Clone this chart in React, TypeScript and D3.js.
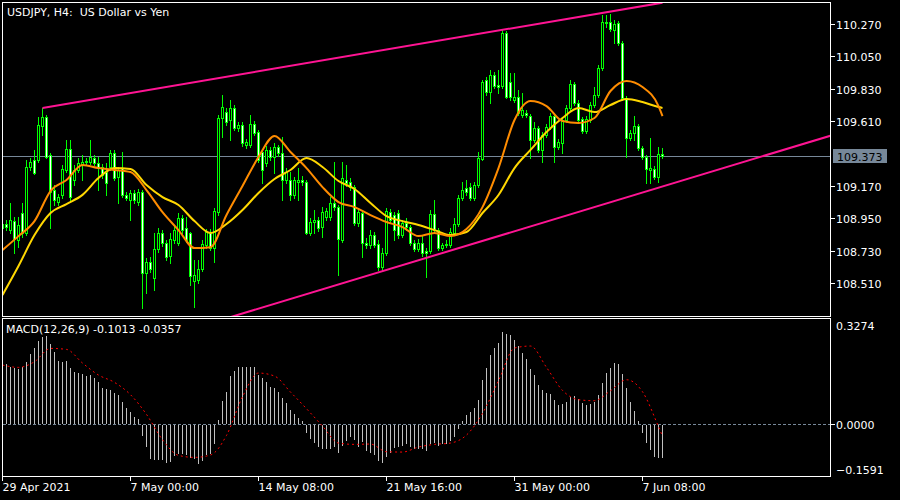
import React from 'react';
import * as d3 from 'd3';

const symbolTitle = 'USDJPY, H4:  US Dollar vs Yen';
const macdTitle = 'MACD(12,26,9) -0.1013 -0.0357';

const opens = [
  108.885, 108.912, 108.871, 108.932, 108.803, 108.987, 108.851, 109.299, 109.347, 109.347,
  109.577, 109.638, 109.381, 109.143, 109.061, 109.109, 109.279, 109.421, 109.211, 109.279,
  109.313, 109.333, 109.333, 109.361, 109.326, 109.299, 109.265, 109.299, 109.394, 109.231,
  109.292, 109.109, 109.075, 109.123, 109.061, 109.129, 108.580, 108.654, 108.546, 108.742,
  108.851, 108.783, 108.695, 108.803, 108.783, 108.953, 108.885, 108.851, 108.525, 108.532,
  108.607, 108.769, 108.858, 108.749, 108.993, 109.632, 109.672, 109.618, 109.700, 109.564,
  109.584, 109.448, 109.448, 109.591, 109.537, 109.401, 109.326, 109.415, 109.367, 109.435,
  109.394, 109.211, 109.211, 109.109, 109.197, 109.211, 109.197, 108.851, 108.926, 108.939,
  108.891, 108.959, 108.959, 109.055, 109.027, 108.803, 109.211, 109.197, 109.163, 108.919,
  108.987, 108.783, 108.769, 108.837, 108.776, 108.620, 108.716, 108.993, 108.973, 108.987,
  108.837, 108.919, 108.891, 108.783, 108.742, 108.783, 108.729, 108.729, 108.980, 108.871,
  108.749, 108.769, 108.769, 108.851, 108.912, 109.089, 109.156, 109.163, 109.089, 109.177,
  109.354, 109.890, 109.808, 109.924, 109.856, 109.849, 110.209, 109.876, 109.754, 109.774,
  109.652, 109.666, 109.645, 109.482, 109.564, 109.415, 109.516, 109.571, 109.645, 109.435,
  109.462, 109.618, 109.700, 109.863, 109.734, 109.625, 109.544, 109.618, 109.720, 109.788,
  109.971, 110.277, 110.284, 110.229, 110.277, 110.141, 109.768, 109.496, 109.530, 109.577,
  109.428, 109.367, 109.279, 109.286, 109.231, 109.387,
];
const highs = [
  108.932, 108.939, 109.055, 108.959, 108.959, 109.055, 109.347, 109.361, 109.415, 109.638,
  109.700, 109.652, 109.394, 109.177, 109.116, 109.313, 109.482, 109.482, 109.313, 109.361,
  109.381, 109.361, 109.482, 109.381, 109.367, 109.320, 109.326, 109.415, 109.415, 109.299,
  109.401, 109.129, 109.143, 109.143, 109.150, 109.143, 108.682, 108.688, 108.851, 108.885,
  108.871, 108.803, 108.851, 108.898, 108.987, 108.973, 108.959, 108.858, 108.668, 108.668,
  108.803, 108.878, 108.878, 109.021, 109.652, 109.788, 109.700, 109.754, 109.720, 109.605,
  109.605, 109.489, 109.652, 109.611, 109.550, 109.415, 109.441, 109.435, 109.462, 109.448,
  109.503, 109.292, 109.265, 109.231, 109.292, 109.238, 109.211, 108.953, 109.007, 108.959,
  109.027, 109.021, 109.095, 109.333, 109.041, 109.333, 109.313, 109.224, 109.177, 109.021,
  109.007, 108.817, 108.871, 108.858, 108.803, 108.749, 109.021, 109.014, 108.993, 109.007,
  108.939, 108.953, 108.905, 108.803, 108.810, 108.830, 108.749, 109.007, 109.075, 108.885,
  108.783, 108.803, 108.885, 108.953, 109.109, 109.197, 109.211, 109.190, 109.197, 109.401,
  109.890, 109.911, 109.958, 109.944, 109.958, 110.229, 110.222, 109.937, 109.937, 109.822,
  109.801, 109.686, 109.659, 109.605, 109.577, 109.537, 109.591, 109.666, 109.659, 109.489,
  109.638, 109.720, 109.890, 109.876, 109.754, 109.638, 109.645, 109.740, 109.842, 109.992,
  110.331, 110.331, 110.338, 110.297, 110.290, 110.154, 109.781, 109.550, 109.645, 109.591,
  109.441, 109.381, 109.496, 109.306, 109.435, 109.428,
];
const lows = [
  108.864, 108.871, 108.851, 108.716, 108.755, 108.823, 108.837, 109.279, 109.252, 109.333,
  109.516, 109.361, 108.885, 109.041, 109.041, 109.089, 109.265, 109.075, 109.177, 109.265,
  109.211, 109.320, 109.320, 109.313, 109.143, 109.224, 109.109, 109.279, 109.211, 109.055,
  109.095, 109.075, 108.939, 109.055, 109.041, 108.342, 108.444, 108.586, 108.464, 108.722,
  108.762, 108.668, 108.648, 108.783, 108.769, 108.851, 108.789, 108.498, 108.349, 108.512,
  108.593, 108.749, 108.736, 108.654, 108.973, 109.503, 109.584, 109.482, 109.550, 109.544,
  109.441, 109.428, 109.435, 109.516, 109.333, 109.190, 109.306, 109.347, 109.258, 109.374,
  109.075, 109.190, 109.075, 109.089, 109.075, 109.177, 108.844, 108.837, 108.851, 108.864,
  108.823, 108.939, 108.939, 109.007, 108.566, 108.789, 109.170, 109.143, 108.905, 108.898,
  108.688, 108.749, 108.749, 108.755, 108.600, 108.600, 108.702, 108.926, 108.803, 108.817,
  108.823, 108.871, 108.769, 108.729, 108.729, 108.695, 108.552, 108.716, 108.858, 108.736,
  108.736, 108.755, 108.755, 108.837, 108.898, 109.075, 109.109, 109.075, 109.075, 109.163,
  109.347, 109.788, 109.734, 109.836, 109.801, 109.836, 109.768, 109.754, 109.740, 109.652,
  109.638, 109.638, 109.361, 109.469, 109.401, 109.333, 109.503, 109.557, 109.333, 109.421,
  109.394, 109.605, 109.686, 109.720, 109.605, 109.530, 109.530, 109.605, 109.706, 109.774,
  109.958, 110.250, 110.222, 110.141, 110.127, 109.754, 109.367, 109.482, 109.482, 109.415,
  109.354, 109.190, 109.190, 109.218, 109.197, 109.360,
];
const closes = [
  108.912, 108.891, 108.939, 108.810, 108.905, 108.851, 109.299, 109.333, 109.259, 109.584,
  109.638, 109.367, 109.129, 109.075, 109.095, 109.286, 109.421, 109.095, 109.279, 109.326,
  109.333, 109.340, 109.367, 109.326, 109.292, 109.245, 109.190, 109.394, 109.224, 109.279,
  109.109, 109.089, 109.123, 109.075, 109.129, 108.580, 108.654, 108.607, 108.742, 108.851,
  108.783, 108.688, 108.810, 108.871, 108.953, 108.871, 108.803, 108.559, 108.566, 108.607,
  108.776, 108.858, 108.749, 109.000, 109.632, 109.706, 109.605, 109.700, 109.564, 109.584,
  109.462, 109.469, 109.591, 109.530, 109.347, 109.279, 109.415, 109.367, 109.435, 109.394,
  109.211, 109.265, 109.109, 109.211, 109.211, 109.197, 108.851, 108.926, 108.939, 108.885,
  108.993, 109.000, 109.055, 109.027, 108.810, 109.224, 109.190, 109.163, 108.919, 108.993,
  108.783, 108.769, 108.837, 108.769, 108.620, 108.716, 109.000, 108.939, 108.871, 108.837,
  108.919, 108.891, 108.783, 108.742, 108.783, 108.716, 108.716, 108.980, 108.871, 108.749,
  108.769, 108.776, 108.858, 108.912, 109.089, 109.143, 109.129, 109.089, 109.177, 109.361,
  109.876, 109.808, 109.924, 109.849, 109.842, 110.209, 109.774, 109.774, 109.774, 109.666,
  109.686, 109.652, 109.482, 109.564, 109.415, 109.516, 109.571, 109.645, 109.435, 109.469,
  109.618, 109.700, 109.863, 109.734, 109.618, 109.544, 109.625, 109.720, 109.788, 109.971,
  110.284, 110.284, 110.236, 110.270, 110.141, 109.768, 109.496, 109.530, 109.577, 109.428,
  109.367, 109.286, 109.292, 109.231, 109.387, 109.373,
];

// moving averages, read at every 4th bar (bar index -> value)
const maSampleBars = [
  0, 4, 8, 12, 16, 20, 24, 28, 32, 36, 40, 44, 48, 52, 56, 60, 64, 68, 72, 76, 80, 84,
  88, 92, 96, 100, 104, 108, 112, 116, 120, 124, 128, 132, 136, 140, 144, 148, 152, 156, 160, 164, 165,
];
const maFast = [
  108.736, 108.830, 108.932, 109.136, 109.211, 109.313, 109.292, 109.279, 109.265, 109.143,
  108.993, 108.871, 108.749, 108.755, 108.973, 109.170, 109.367, 109.510, 109.401, 109.292,
  109.163, 109.061, 109.027, 108.973, 108.926, 108.891, 108.830, 108.851, 108.830, 108.878,
  109.027, 109.292, 109.618, 109.747, 109.713, 109.611, 109.598, 109.632, 109.815, 109.883,
  109.842, 109.713, 109.645,
];
const maSlow = [
  108.430, 108.627, 108.837, 108.987, 109.048, 109.110, 109.224, 109.292, 109.286, 109.177,
  109.095, 109.041, 108.932, 108.851, 108.912, 109.007, 109.123, 109.218, 109.279, 109.360,
  109.299, 109.204, 109.150, 109.055, 108.966, 108.932, 108.905, 108.871, 108.837, 108.858,
  108.987, 109.109, 109.292, 109.415, 109.537, 109.632, 109.700, 109.672, 109.720, 109.761,
  109.740, 109.706, 109.700,
];

const macdHist = [
  0.1847, 0.1868, 0.1795, 0.1744, 0.1723, 0.1795, 0.1950, 0.2178, 0.2363, 0.2591,
  0.2725, 0.2756, 0.2487, 0.2260, 0.1971, 0.1930, 0.1971, 0.1744, 0.1620, 0.1589,
  0.1558, 0.1506, 0.1537, 0.1454, 0.1330, 0.1144, 0.1103, 0.1072, 0.0969, 0.0917,
  0.0690, 0.0504, 0.0401, 0.0225, 0.0163, -0.0322, -0.0653, -0.1045, -0.1066, -0.1066,
  -0.1066, -0.1149, -0.1128, -0.0942, -0.0890, -0.0890, -0.0921, -0.0994, -0.1045, -0.1180,
  -0.1097, -0.0901, -0.0870, -0.0580, 0.0143, 0.0731, 0.1020, 0.1506, 0.1661, 0.1775,
  0.1775, 0.1775, 0.1775, 0.1775, 0.1537, 0.1434, 0.1330, 0.1175, 0.1124, 0.1020,
  0.0814, 0.0659, 0.0452, 0.0328, 0.0194, 0.0122, -0.0219, -0.0405, -0.0549, -0.0663,
  -0.0715, -0.0735, -0.0735, -0.0653, -0.0839, -0.0632, -0.0477, -0.0343, -0.0456, -0.0653,
  -0.0508, -0.0787, -0.0859, -0.0921, -0.1097, -0.1149, -0.0973, -0.0839, -0.0704, -0.0653,
  -0.0632, -0.0580, -0.0653, -0.0715, -0.0735, -0.0715, -0.0787, -0.0580, -0.0529, -0.0632,
  -0.0560, -0.0580, -0.0477, -0.0343, -0.0116, 0.0112, 0.0297, 0.0401, 0.0504, 0.0762,
  0.1382, 0.1764, 0.2157, 0.2363, 0.2518, 0.2859, 0.2808, 0.2777, 0.2622, 0.2446,
  0.2209, 0.2033, 0.1723, 0.1537, 0.1227, 0.1072, 0.0969, 0.0938, 0.0762, 0.0607,
  0.0638, 0.0690, 0.0866, 0.0897, 0.0793, 0.0659, 0.0607, 0.0628, 0.0690, 0.0917,
  0.1279, 0.1589, 0.1764, 0.1899, 0.1868, 0.1558, 0.1124, 0.0690, 0.0421, 0.0112,
  -0.0219, -0.0529, -0.0756, -0.0963, -0.0994, -0.1013,
];
const macdSignal = [
  0.1847, 0.1775, 0.1950, 0.2363, 0.2332, 0.1909, 0.1537, 0.1310, 0.0928, 0.0318,
  -0.0467, -0.0952, -0.1014, -0.0942, -0.0333, 0.0866, 0.1599, 0.1506, 0.1010, 0.0494,
  -0.0043, -0.0570, -0.0611, -0.0601, -0.0839, -0.0849, -0.0694, -0.0611, -0.0570, -0.0322,
  0.0349, 0.1361, 0.2374, 0.2436, 0.1775, 0.1062, 0.0773, 0.0742, 0.1051, 0.1392,
  0.1020, -0.0064, -0.0357,
];

const priceTicks = [110.27, 110.05, 109.83, 109.61, 109.17, 108.95, 108.73, 108.51];
const macdTicks = [0.3274, 0.0, -0.1591];
const currentPrice = 109.373;
const dateTickBars = [0, 32, 64, 96, 128, 160];
const dateTickLabels = ['29 Apr 2021', '7 May 00:00', '14 May 08:00', '21 May 16:00', '31 May 00:00', '7 Jun 08:00'];

const upperTrendBars = [10, 165];
const upperTrendPrices = [109.7, 110.415];
const lowerTrendBars = [70, 165];
const lowerTrendPrices = [108.387, 109.167];

const FONT = "'DejaVu Sans', Verdana, sans-serif";
const LIME = '#00FF00';

export default function App() {
  const x = d3.scaleLinear().domain([0, 165]).range([2, 662]);
  const yP = d3.scaleLinear().domain([108.2877, 110.4194]).range([316, 2]);
  const yM = d3.scaleLinear().domain([-0.1591, 0.3274]).range([476, 319]);
  const col = (k: number) => Math.round(x(k));

  const candles = closes.map((c, k) => {
    const o = opens[k];
    const cx = col(k);
    const yo = yP(o), yc = yP(c);
    const top = Math.round(Math.min(yo, yc));
    const bot = Math.round(Math.max(yo, yc));
    const yh = Math.round(yP(highs[k]));
    const yl = Math.round(yP(lows[k]));
    const bull = c > o;
    return (
      <g key={k}>
        <line x1={cx + 0.5} x2={cx + 0.5} y1={yh} y2={yl + 1} stroke={LIME} strokeWidth={1} />
        {bot - top >= 1 ? (
          <rect x={cx - 0.5} y={top + 0.5} width={2} height={bot - top}
            fill={bull ? '#000000' : '#FFFFFF'} stroke={LIME} strokeWidth={1} />
        ) : (
          <line x1={cx - 1} x2={cx + 2} y1={top + 0.5} y2={top + 0.5} stroke={LIME} strokeWidth={1} />
        )}
      </g>
    );
  });

  const maLine = (vals: number[]) =>
    d3.line<number>()
      .x((_, i) => x(maSampleBars[i]) + 0.5)
      .y((v) => yP(v))
      .curve(d3.curveMonotoneX)(vals) || '';

  const sigPath = d3.line<number>()
    .x((_, i) => x(maSampleBars[i]) + 0.5)
    .y((v) => yM(v))
    .curve(d3.curveMonotoneX)(macdSignal) || '';

  const zeroRow = Math.floor(yM(0));
  const histBars = macdHist.map((v, k) => {
    const cx = col(k) + 0.5;
    const yv = Math.round(yM(v));
    const y1 = v >= 0 ? yv : zeroRow + 1;
    const y2 = v >= 0 ? zeroRow : yv + 1;
    return <line key={k} x1={cx} x2={cx} y1={y1} y2={y2} stroke="#C0C0C0" strokeWidth={1} />;
  });

  // lower trend ray extended over the panel
  const slope = (lowerTrendPrices[1] - lowerTrendPrices[0]) / (lowerTrendBars[1] - lowerTrendBars[0]);
  const kA = -20, kB = 215;
  const lowA = lowerTrendPrices[0] + slope * (kA - lowerTrendBars[0]);
  const lowB = lowerTrendPrices[0] + slope * (kB - lowerTrendBars[0]);

  const curY = Math.round(yP(currentPrice)) + 0.5;

  return (
    <svg width={900} height={500} style={{ position: 'absolute', left: 0, top: 0, display: 'block', background: '#000' }}
      fontFamily={FONT} fontSize={11}>
      <defs>
        <clipPath id="mainClip"><rect x={3} y={3} width={827} height={313} /></clipPath>
        <clipPath id="macdClip"><rect x={3} y={319} width={827} height={157} /></clipPath>
      </defs>
      <rect x={0} y={0} width={900} height={500} fill="#000" />

      {/* main panel */}
      <g clipPath="url(#mainClip)">
        <line x1={3} x2={830} y1={curY} y2={curY} stroke="#778899" strokeWidth={1} shapeRendering="crispEdges" />
        <g shapeRendering="crispEdges">{candles}</g>
        <path d={maLine(maSlow)} fill="none" stroke="#FFD700" strokeWidth={2} />
        <path d={maLine(maFast)} fill="none" stroke="#FF8C00" strokeWidth={2} />
        <line x1={x(upperTrendBars[0]) + 0.5} y1={yP(upperTrendPrices[0])}
          x2={x(upperTrendBars[1]) + 0.5} y2={yP(upperTrendPrices[1])} stroke="#FF1493" strokeWidth={2} />
        <line x1={x(kA) + 0.5} y1={yP(lowA)} x2={x(kB) + 0.5} y2={yP(lowB)} stroke="#FF1493" strokeWidth={2} />
      </g>
      <text x={7} y={16} fill="#FFFFFF" style={{ whiteSpace: 'pre' }}>{symbolTitle}</text>

      {/* MACD panel */}
      <g clipPath="url(#macdClip)">
        <line x1={3} x2={830} y1={zeroRow + 0.5} y2={zeroRow + 0.5} stroke="#778899" strokeWidth={1}
          strokeDasharray="3 2" shapeRendering="crispEdges" />
        <g shapeRendering="crispEdges">{histBars}</g>
        <path d={sigPath} fill="none" stroke="#FF0000" strokeWidth={1} strokeDasharray="2 3" />
      </g>
      <text x={6} y={333} fill="#FFFFFF" style={{ whiteSpace: 'pre' }}>{macdTitle}</text>

      {/* frames */}
      <g fill="none" stroke="#FFFFFF" strokeWidth={1} shapeRendering="crispEdges">
        <rect x={2.5} y={2.5} width={828} height={314} />
        <rect x={2.5} y={318.5} width={828} height={158} />
      </g>

      {/* price axis */}
      {priceTicks.map((p) => {
        const yy = Math.round(yP(p)) + 0.5;
        return (
          <g key={p}>
            <line x1={831} x2={835} y1={yy} y2={yy} stroke="#FFFFFF" shapeRendering="crispEdges" />
            <text x={836} y={yy + 4} fill="#FFFFFF">{d3.format('.3f')(p)}</text>
          </g>
        );
      })}
      <rect x={833} y={curY - 7.5} width={54} height={14} fill="#778899" />
      <text x={837} y={curY + 4} fill="#000000">{d3.format('.3f')(currentPrice)}</text>

      {/* MACD axis */}
      {macdTicks.map((v) => {
        const raw = yM(v);
        const yy = Math.min(Math.max(raw, 326), 470);
        return (
          <g key={v}>
            {v === 0 && <line x1={831} x2={835} y1={zeroRow + 0.5} y2={zeroRow + 0.5} stroke="#FFFFFF" shapeRendering="crispEdges" />}
            <text x={836} y={yy + 4} fill="#FFFFFF">{d3.format('.4f')(v)}</text>
          </g>
        );
      })}

      {/* time axis */}
      {dateTickBars.map((k, i) => {
        const xx = col(k) + 0.5;
        return (
          <g key={k}>
            <line x1={xx} x2={xx} y1={477} y2={481} stroke="#FFFFFF" shapeRendering="crispEdges" />
            <text x={xx} y={491} fill="#FFFFFF">{dateTickLabels[i]}</text>
          </g>
        );
      })}
    </svg>
  );
}
